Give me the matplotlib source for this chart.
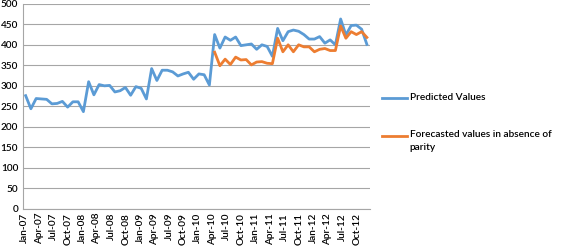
import numpy as np
import matplotlib
matplotlib.use("Agg")
import matplotlib.pyplot as plt
from matplotlib.lines import Line2D

# ------------------------------------------------------------------
# Data (monthly, Jan-07 onwards)
# ------------------------------------------------------------------
predicted = [276, 244, 269, 268, 267, 256, 257, 262, 248, 261, 261, 237,
             310, 278, 303, 300, 301, 285, 288, 296, 277, 298, 294, 268,
             342, 313, 338, 338, 334, 324, 329, 333, 316, 329, 327, 302,
             425, 392, 419, 411, 419, 398, 400, 402, 389, 400, 396, 372,
             440, 410, 432, 436, 433, 425, 414, 414, 420, 404, 412, 400,
             463, 424, 447, 448, 438, 401]

forecast = [np.nan] * 36 + [
             382, 349, 365, 352, 370, 363, 364, 351, 358, 359, 355, 354,
             416, 383, 400, 383, 400, 395, 395, 383, 389, 391, 386, 386,
             446, 416, 432, 425, 432, 418]

tick_labels = [f"{m}-{y:02d}" for y in range(7, 13)
               for m in ("Jan", "Apr", "Jul", "Oct")]

series_names = ["Predicted Values", "Forecasted values in absence of\nparity"]
colors = ["#5B9BD5", "#ED7D31"]

# ------------------------------------------------------------------
# Figure
# ------------------------------------------------------------------
plt.rcParams["font.family"] = ["Lato", "DejaVu Sans"]
plt.rcParams["font.weight"] = "semibold"

fig = plt.figure(figsize=(5.67, 2.49), dpi=100)
ax = fig.add_axes([0.0406, 0.1614, 0.6111, 0.8233])

x = np.arange(len(predicted))
ax.plot(x, predicted, color=colors[0], lw=2.0, solid_joinstyle="round")
ax.plot(x, forecast, color=colors[1], lw=2.0, solid_joinstyle="round")

ax.set_xlim(-0.5, len(predicted) - 0.5)
ax.set_ylim(0, 500)
ax.set_yticks(np.arange(0, 501, 50))
ax.yaxis.grid(True, color="#A6A6A6", lw=0.8)
ax.set_axisbelow(True)

step = len(predicted) / len(tick_labels)
ax.set_xticks(np.arange(len(tick_labels)) * step - 0.2)
ax.set_xticklabels(tick_labels, rotation=90)

ax.tick_params(axis="both", length=0, labelsize=7.2, colors="black")
ax.tick_params(axis="y", pad=3.5)
ax.tick_params(axis="x", pad=3)

for s in ("top", "right"):
    ax.spines[s].set_visible(False)
for s in ("left", "bottom"):
    ax.spines[s].set_color("#A6A6A6")
    ax.spines[s].set_linewidth(0.8)

# ------------------------------------------------------------------
# Legend drawn by hand (Excel-like, handle on the first text line)
# ------------------------------------------------------------------
W, H = 567, 249
for name, col, py in zip(series_names, colors, (98.3, 135.7)):
    fig.add_artist(Line2D([381.7 / W, 407.3 / W], [1 - py / H, 1 - py / H],
                          color=col, lw=2.0))
    fig.text(409.5 / W, 1 - (py - 5.4) / H, name, fontsize=7.3, va="top",
             ha="left", linespacing=1.5)

fig.savefig("out.png", dpi=100)
plt.close(fig)
